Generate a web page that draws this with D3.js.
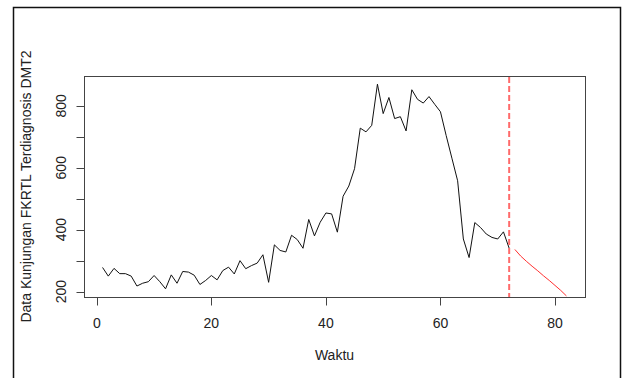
<!DOCTYPE html>
<html>
<head>
<meta charset="utf-8">
<script src="https://cdn.jsdelivr.net/npm/d3@7"></script>
<style>
  body { margin: 0; background: #fff; }
  svg text { font-family: "Liberation Sans", Arial, sans-serif; fill: #222; }
</style>
</head>
<body>
<svg id="chart" width="622" height="378"></svg>
<script>
// observed series (t = 1..72)
const actual = [
  278, 250, 275, 258, 258, 250, 218, 227, 232, 252,
  232, 209, 254, 227, 265, 263, 253, 223, 236, 252,
  238, 268, 279, 257, 300, 274, 284, 292, 319, 230,
  351, 333, 328, 382, 368, 340, 433, 380, 424, 454,
  451, 392, 508, 541, 597, 728, 716, 737, 870, 775,
  827, 759, 765, 719, 852, 821, 809, 830, 805, 781,
  704, 631, 558, 370, 310, 423, 407, 386, 375, 370,
  393, 340
];
// forecast (t = 73..82)
const forecastStart = 73;
const forecast = [336, 315, 298, 282, 267, 251, 236, 220, 204, 186];
const cutPoint = 72;
const xTicks = [0, 20, 40, 60, 80];
const yTicks = [200, 300, 400, 500, 600, 700, 800];
const yTickLabels = [200, 400, 600, 800];
const xLabel = "Waktu";
const yLabel = "Data Kunjungan FKRTL Terdiagnosis DMT2";

const svg = d3.select("#chart");
const plot = { left: 84, top: 76, right: 585, bottom: 297 };

const actualPts = actual.map((v, i) => ({ t: i + 1, v }));
const forecastPts = forecast.map((v, i) => ({ t: forecastStart + i, v }));

// R-style 4% padding
const pad = (lo, hi) => { const d = (hi - lo) * 0.04; return [lo - d, hi + d]; };
const xScale = d3.scaleLinear()
  .domain(pad(1, forecastStart + forecast.length - 1))
  .range([plot.left, plot.right]);
const yScale = d3.scaleLinear()
  .domain(pad(d3.min(actual), d3.max(actual)))
  .range([plot.bottom, plot.top]);

// outer frame
svg.append("rect")
  .attr("x", 13.5).attr("y", 7.5)
  .attr("width", 607).attr("height", 400)
  .attr("fill", "none").attr("stroke", "#111").attr("stroke-width", 1.5);

// plot box
svg.append("rect")
  .attr("x", plot.left + 0.5).attr("y", plot.top + 0.5)
  .attr("width", plot.right - plot.left).attr("height", plot.bottom - plot.top)
  .attr("fill", "none").attr("stroke", "#444").attr("stroke-width", 1);

// x axis
const xAxis = svg.append("g").attr("transform", `translate(0,${plot.bottom + 0.5})`);
xAxis.selectAll("line").data(xTicks).join("line")
  .attr("x1", d => Math.round(xScale(d)) + 0.5).attr("x2", d => Math.round(xScale(d)) + 0.5)
  .attr("y1", 0).attr("y2", 8)
  .attr("stroke", "#444");
xAxis.selectAll("text").data(xTicks).join("text")
  .attr("x", d => xScale(d))
  .attr("y", 30)
  .attr("text-anchor", "middle")
  .attr("font-size", 14)
  .text(d => d);

// y axis
const yAxis = svg.append("g").attr("transform", `translate(${plot.left + 0.5},0)`);
yAxis.selectAll("line").data(yTicks).join("line")
  .attr("x1", 0).attr("x2", -8)
  .attr("y1", d => Math.round(yScale(d)) + 0.5).attr("y2", d => Math.round(yScale(d)) + 0.5)
  .attr("stroke", "#444");
yAxis.selectAll("text").data(yTickLabels).join("text")
  .attr("transform", d => `translate(-19,${yScale(d)}) rotate(-90)`)
  .attr("text-anchor", "middle")
  .attr("font-size", 14)
  .text(d => d);

// axis titles
svg.append("text")
  .attr("x", (plot.left + plot.right) / 2)
  .attr("y", 360)
  .attr("text-anchor", "middle")
  .attr("font-size", 14)
  .text(xLabel);
svg.append("text")
  .attr("transform", `translate(31,${(plot.top + plot.bottom) / 2}) rotate(-90)`)
  .attr("text-anchor", "middle")
  .attr("font-size", 14)
  .text(yLabel);

const line = d3.line().x(d => xScale(d.t)).y(d => yScale(d.v));

svg.append("path")
  .datum(actualPts)
  .attr("d", line)
  .attr("fill", "none")
  .attr("stroke", "#111")
  .attr("stroke-width", 1);

svg.append("path")
  .datum(forecastPts)
  .attr("d", line)
  .attr("fill", "none")
  .attr("stroke", "#ff3030")
  .attr("stroke-width", 1);

// cut-off marker
svg.append("line")
  .attr("x1", xScale(cutPoint)).attr("x2", xScale(cutPoint))
  .attr("y1", plot.top + 1).attr("y2", plot.bottom)
  .attr("stroke", "#ff6b6b")
  .attr("stroke-width", 2)
  .attr("stroke-dasharray", "6,3");
</script>
</body>
</html>
